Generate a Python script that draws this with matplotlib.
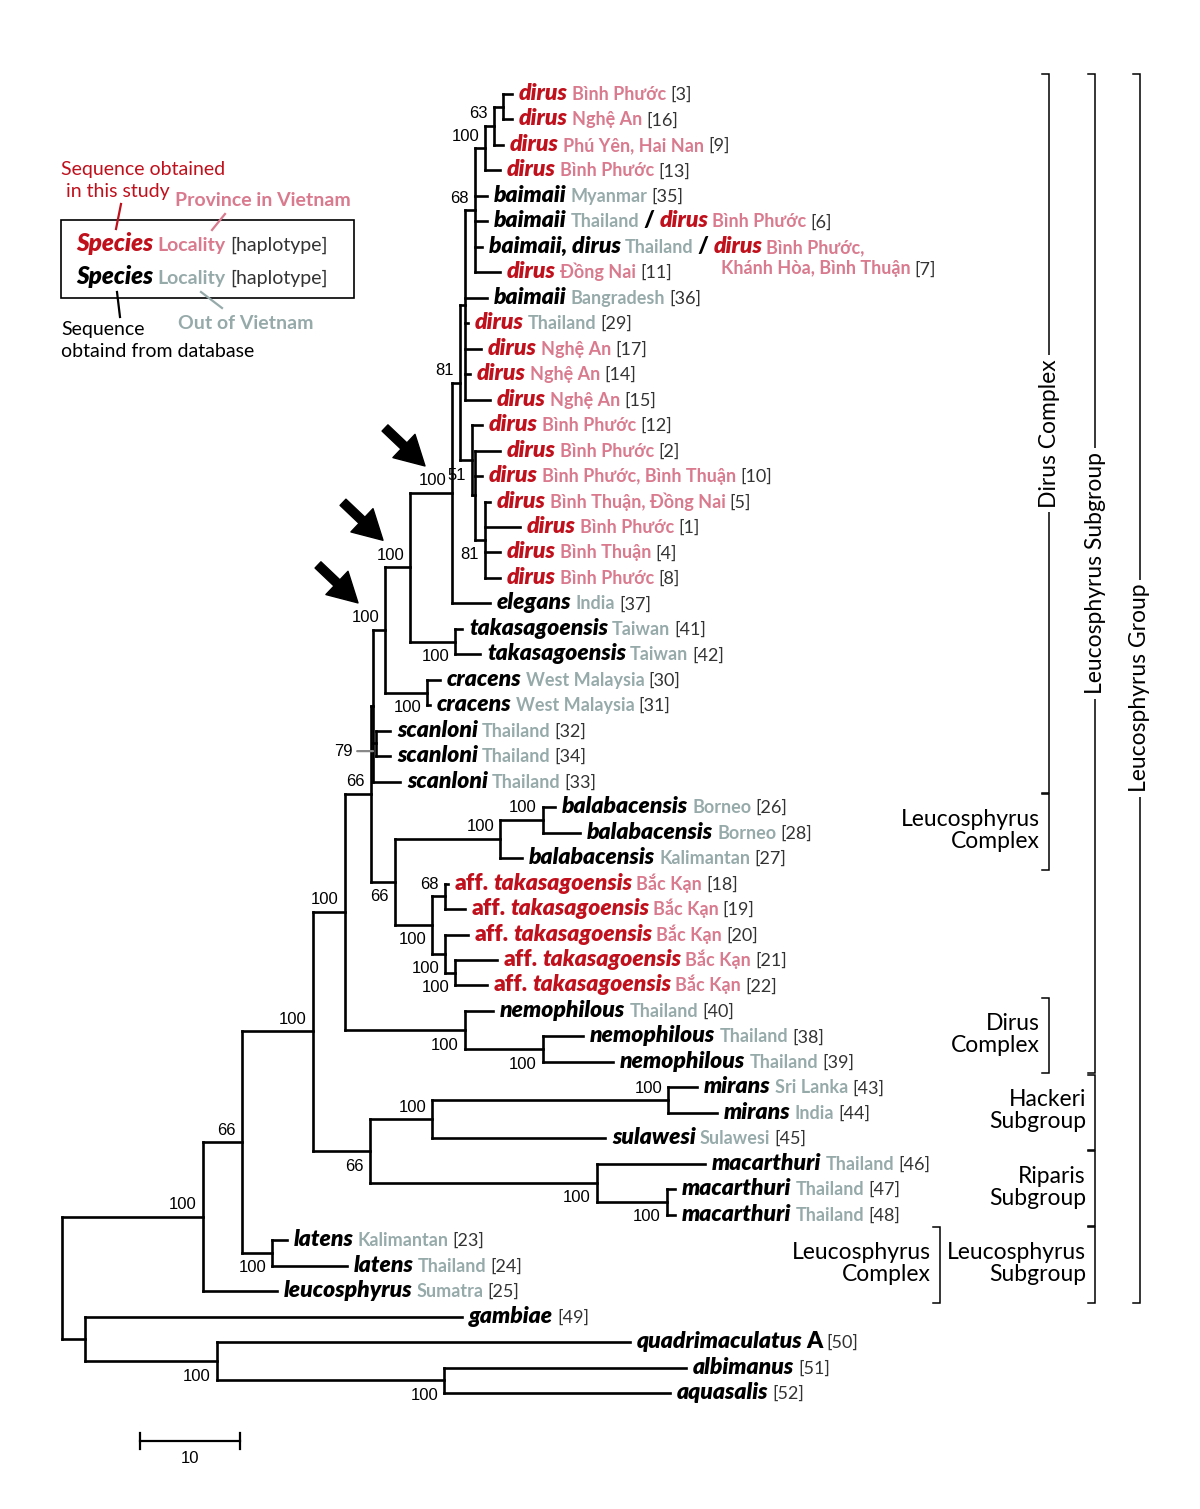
import matplotlib
matplotlib.use("Agg")
import matplotlib.pyplot as plt
import matplotlib.transforms as mtransforms
from matplotlib.collections import LineCollection
from matplotlib.patches import Rectangle

# tree in newick, branch lengths in substitutions (scale bar = 10)
newick = (
    "((((((((((((((((1:0.9,2:0.9)A:0.9,3:0.9)B:0.9,4:1.5)C:1.0,5:1.2,6:1.2,7:0.7,8:2.5)D:1.0,"
    "9:2.2,10:0.3,11:1.6,12:0.5,13:2.5)M:0.5,"
    "(14:1.0,(15:2.5,16:0.7,(17:0.5,18:3.5,19:1.5,20:1.5)Q:1.0)P:0.3)N51:1.2)N81:0.8,"
    "21:3.8)N452:4.2,(22:0.7,23:2.5)T:4.5)N410:2.5,(24:1.3,25:0.3)CR:4.2)N385:1.2,"
    "(26:1.4,27:1.4)S79:0.3,28:2.7)X:0.2,"
    "(((29:1.2,30:3.7)B2:4.3,31:2.2)BA:10.5,((32:0.3,33:2.0)N68:1.3,"
    "(34:2.3,(35:4.2,36:3.2)N100B:1.0)N100A:1.3)AF:3.7)N66B:2.4)N66:2.6,"
    "(37:2.8,(38:4.0,39:7.0)NN:7.8)NE:12.0)N345:3.2,"
    "(((40:2.9,41:4.9)MM:23.6,42:17.3)MI:6.2,(43:10.8,(44:0.8,45:0.8)M47:7.0)MAC:22.7)N370:5.7)N313:7.1,"
    "(46:1.5,47:7.5)LAT:3.0)N242:3.9,48:7.4)I:14.1,"
    "(49:37.7,(50:41.3,(51:24.2,52:22.6)AO:22.7)Q217:13.2)OUT:2.3)R;"
)

species = [
    "dirus", "dirus", "dirus", "dirus", "baimaii", "baimaii", "baimaii, dirus", "dirus",
    "baimaii", "dirus", "dirus", "dirus", "dirus", "dirus", "dirus", "dirus", "dirus",
    "dirus", "dirus", "dirus", "elegans", "takasagoensis", "takasagoensis", "cracens",
    "cracens", "scanloni", "scanloni", "scanloni", "balabacensis", "balabacensis",
    "balabacensis", "aff. takasagoensis", "aff. takasagoensis", "aff. takasagoensis",
    "aff. takasagoensis", "aff. takasagoensis", "nemophilous", "nemophilous", "nemophilous",
    "mirans", "mirans", "sulawesi", "macarthuri", "macarthuri", "macarthuri", "latens",
    "latens", "leucosphyrus", "gambiae", "quadrimaculatus A", "albimanus", "aquasalis",
]
locality = [
    "Bình Phước", "Nghệ An", "Phú Yên, Hai Nan", "Bình Phước", "Myanmar", "Thailand",
    "Thailand", "Đồng Nai", "Bangradesh", "Thailand", "Nghệ An", "Nghệ An", "Nghệ An",
    "Bình Phước", "Bình Phước", "Bình Phước, Bình Thuận", "Bình Thuận, Đồng Nai",
    "Bình Phước", "Bình Thuận", "Bình Phước", "India", "Taiwan", "Taiwan", "West Malaysia",
    "West Malaysia", "Thailand", "Thailand", "Thailand", "Borneo", "Borneo", "Kalimantan",
    "Bắc Kạn", "Bắc Kạn", "Bắc Kạn", "Bắc Kạn", "Bắc Kạn", "Thailand", "Thailand",
    "Thailand", "Sri Lanka", "India", "Sulawesi", "Thailand", "Thailand", "Thailand",
    "Kalimantan", "Thailand", "Sumatra", "", "", "", "",
]
haplotype = [3, 16, 9, 13, 35, 6, 7, 11, 36, 29, 17, 14, 15, 12, 2, 10, 5, 1, 4, 8,
             37, 41, 42, 30, 31, 32, 34, 33, 26, 28, 27, 18, 19, 20, 21, 22, 40, 38, 39,
             43, 44, 45, 46, 47, 48, 23, 24, 25, 49, 50, 51, 52]
# species sequenced in this study (red) / locality in Vietnam (pink)
this_study = [1, 1, 1, 1, 0, 0, 0, 1, 0, 1, 1, 1, 1, 1, 1, 1, 1, 1, 1, 1,
              0, 0, 0, 0, 0, 0, 0, 0, 0, 0, 0, 1, 1, 1, 1, 1, 0, 0, 0,
              0, 0, 0, 0, 0, 0, 0, 0, 0, 0, 0, 0, 0]
in_vietnam = [1, 1, 1, 1, 0, 0, 0, 1, 0, 0, 1, 1, 1, 1, 1, 1, 1, 1, 1, 1,
              0, 0, 0, 0, 0, 0, 0, 0, 0, 0, 0, 1, 1, 1, 1, 1, 0, 0, 0,
              0, 0, 0, 0, 0, 0, 0, 0, 0, 0, 0, 0, 0]
# leaves holding two sequences: second species / locality lines
second_part = {6: ("dirus", ["Bình Phước"]),
               7: ("dirus", ["Bình Phước,", "Khánh Hòa, Bình Thuận"])}

# bootstrap values per internal node, with where the label sits
support = {
    "B": ("63", "above"), "C": ("100", "above"), "D": ("68", "above"),
    "N81": ("81", "above"), "N51": ("51", "below"), "Q": ("81", "below"),
    "N452": ("100", "above"), "N410": ("100", "above"), "T": ("100", "below"),
    "N385": ("100", "above"), "CR": ("100", "below"), "S79": ("79", "leader"),
    "N66": ("66", "above"), "BA": ("100", "above"), "B2": ("100", "above"),
    "N66B": ("66", "below"), "N68": ("68", "above"), "AF": ("100", "below"),
    "N100A": ("100", "below"), "N100B": ("100", "below"), "N345": ("100", "above"),
    "NE": ("100", "below"), "NN": ("100", "below"), "N313": ("100", "above"),
    "MI": ("100", "above"), "N370": ("66", "below"), "MM": ("100", "above"),
    "MAC": ("100", "below"), "M47": ("100", "below"), "N242": ("66", "above"),
    "I": ("100", "above"), "LAT": ("100", "below"), "Q217": ("100", "below"),
    "AO": ("100", "below"),
}
arrow_nodes = ["N452", "N410", "N385"]

# clade brackets: (label, first leaf, last leaf, column)
brackets = [
    ("Dirus Complex", 1, 28, 1, "side"),
    ("Leucosphyrus\nComplex", 29, 31, 1, "left"),
    ("Dirus\nComplex", 37, 39, 1, "left"),
    ("Leucosphyrus Subgroup", 1, 39, 2, "side"),
    ("Hackeri\nSubgroup", 40, 42, 2, "left"),
    ("Riparis\nSubgroup", 43, 45, 2, "left"),
    ("Leucosphyrus\nSubgroup", 46, 48, 2, "left"),
    ("Leucosphyrus\nComplex", 46, 48, 0, "left"),
    ("Leucosphyrus Group", 1, 48, 3, "side"),
]
bracket_cols = [87.8, 98.7, 103.3, 107.8]
scale_len = 10

RED = "#c0101c"
PINK = "#d97a8e"
GREY = "#97aaaa"
HAP = "#333333"


def parse(s):
    pos = 0

    def node():
        nonlocal pos
        n = {"children": [], "name": "", "bl": 0.0}
        if s[pos] == "(":
            pos += 1
            n["children"].append(node())
            while s[pos] == ",":
                pos += 1
                n["children"].append(node())
            pos += 1
        start = pos
        while s[pos] not in ":,);":
            pos += 1
        n["name"] = s[start:pos]
        if s[pos] == ":":
            pos += 1
            start = pos
            while s[pos] not in ",);":
                pos += 1
            n["bl"] = float(s[start:pos])
        return n

    return node()


def layout(n, px=0.0):
    n["x"] = px + n["bl"]
    if n["children"]:
        for c in n["children"]:
            layout(c, n["x"])
        n["y"] = (n["children"][0]["y"] + n["children"][-1]["y"]) / 2
    else:
        n["y"] = int(n["name"]) - 1
    n["px"] = px


def walk(n):
    yield n
    for c in n["children"]:
        yield from walk(c)


root = parse(newick)
layout(root)
nodes = list(walk(root))
byname = {n["name"]: n for n in nodes}

fig = plt.figure(figsize=(12, 15.09), dpi=100)
ax = fig.add_axes([0, 0, 1, 1])
ax.set_xlim(-6.2, 113.8)
row = 25.47
ax.set_ylim((1509 - 94) / row, -94 / row)
ax.axis("off")

segs = []
for n in nodes:
    if n is not root:
        segs.append([(n["px"], n["y"]), (n["x"], n["y"])])
    if n["children"]:
        segs.append([(n["x"], n["children"][0]["y"]), (n["x"], n["children"][-1]["y"])])
ax.add_collection(LineCollection(segs, colors="black", linewidths=1.9, capstyle="projecting"))

renderer = fig.canvas.get_renderer()
inv = ax.transData.inverted()
base = mtransforms.offset_copy(ax.transData, fig=fig, x=0, y=-6, units="dots")

SP = dict(family="Lato", weight="heavy", style="italic", fontsize=16.5)
SPU = dict(family="Lato", weight="heavy", fontsize=16.5)
LOC = dict(family="Lato", weight="bold", fontsize=13)
HP = dict(family="Lato", fontsize=13, color=HAP)


def put(x, y, s, kw, gap=4, trans=base):
    t = ax.text(x, y, s, transform=trans, ha="left", va="baseline", **kw)
    bb = t.get_window_extent(renderer)
    return inv.transform((bb.x1 + gap, 0))[0], t


def species_parts(name, color):
    parts, cur = [], []
    for tok in name.split(" "):
        if tok in ("aff.", "A"):
            if cur:
                parts.append((" ".join(cur), dict(SP, color=color)))
                cur = []
            parts.append((tok, dict(SPU, color=color)))
        else:
            cur.append(tok)
    if cur:
        parts.append((" ".join(cur), dict(SP, color=color)))
    return parts


for i in range(len(species)):
    leaf = byname[str(i + 1)]
    x = leaf["x"] + 0.7
    y = leaf["y"]
    col = RED if this_study[i] else "black"
    for s, kw in species_parts(species[i], col):
        x, _ = put(x, y, s, kw, gap=4)
    if locality[i]:
        x, _ = put(x, y, locality[i], dict(LOC, color=PINK if in_vietnam[i] else GREY))
    if haplotype[i] in second_part:
        sp2, locs = second_part[haplotype[i]]
        x, _ = put(x, y, "/", dict(SPU, color="black"), gap=5)
        x0 = x
        x, _ = put(x, y, sp2, dict(SP, color=RED))
        x, _ = put(x, y, locs[0], dict(LOC, color=PINK))
        if len(locs) > 1:
            y = y + 0.85
            x, _ = put(x0 + 0.7, y, locs[1], dict(LOC, color=PINK))
    put(x, y, f"[{haplotype[i]}]", HP)

# bootstrap labels
BS = dict(family="Liberation Sans", fontsize=12, color="black")
for name, (val, where) in support.items():
    n = byname[name]
    if where == "above":
        tr = mtransforms.offset_copy(ax.transData, fig=fig, x=-6, y=12, units="dots")
        ax.text(n["x"], n["y"], val, transform=tr, ha="right", va="center", **BS)
    elif where == "below":
        tr = mtransforms.offset_copy(ax.transData, fig=fig, x=-6, y=-15, units="dots")
        ax.text(n["x"], n["y"], val, transform=tr, ha="right", va="center", **BS)
    else:
        ax.annotate(val, xy=(n["x"] - 0.3, n["y"] + 0.3), xytext=(-20, 0),
                    textcoords="offset pixels", ha="right", va="center", **BS,
                    arrowprops=dict(arrowstyle="-", color="#888888", lw=1.6,
                                    shrinkA=1, shrinkB=0))

# arrows pointing at the key nodes
for name in arrow_nodes:
    n = byname[name]
    tip = mtransforms.offset_copy(ax.transData, fig=fig, x=-27, y=27, units="dots")
    ax.annotate("", xy=(n["x"], n["y"]), xycoords=tip, xytext=(-40, 38),
                textcoords="offset pixels",
                arrowprops=dict(arrowstyle="simple,head_length=0.95,head_width=1.05,tail_width=0.28",
                                fc="black", ec="black", mutation_scale=22,
                                shrinkA=0, shrinkB=0))

# brackets
BR = dict(family="Lato", fontsize=16.5, color="black")
tick = 0.7
for label, a, b, c, kind in brackets:
    xc = bracket_cols[c]
    y0, y1 = a - 1 - 0.5, b - 1 + 0.45
    if kind == "side":
        y0 = a - 1 - 0.8
    ax.plot([xc - tick, xc, xc, xc - tick], [y0, y0, y1, y1], color="black", lw=1.1,
            solid_joinstyle="miter")
    if kind == "side":
        ax.text(xc, (y0 + y1) / 2, label, rotation=90, ha="center", va="center",
                bbox=dict(fc="white", ec="none", pad=3), **BR)
    else:
        ax.text(xc - 0.9, (y0 + y1) / 2 - 0.05, label, ha="right", va="center",
                linespacing=1.05, **BR)

# scale bar
sx = 7.8
sy = (1441 - 94) / row
ax.plot([sx, sx + scale_len], [sy, sy], color="black", lw=1.6)
for xx in (sx, sx + scale_len):
    ax.plot([xx, xx], [sy - 0.3, sy + 0.3], color="black", lw=1.6)
ax.text(sx + scale_len / 2, sy + 0.7, str(scale_len), ha="center", va="center", **BS)

# legend (figure pixel coordinates)
lg = fig.add_axes([0, 0, 1, 1])
lg.set_xlim(0, 1200)
lg.set_ylim(1509, 0)
lg.axis("off")
lg.patch.set_alpha(0)
lg.add_patch(Rectangle((61, 220), 293, 78, fill=False, ec="black", lw=1.2))
lrend = lg.transData.inverted()


def lput(x, y, s, kw, gap=5):
    t = lg.text(x, y, s, ha="left", va="baseline", **kw)
    bb = t.get_window_extent(renderer)
    return lrend.transform((bb.x1 + gap, 0))[0]


for yy, c1, c2 in ((251, RED, PINK), (284, "black", GREY)):
    x = lput(76, yy, "Species", dict(SP, fontsize=17.5, color=c1), gap=4)
    x = lput(x, yy, "Locality", dict(LOC, fontsize=14, color=c2), gap=5)
    lput(x, yy, "[haplotype]", dict(family="Lato", fontsize=14, color=HAP))

NOTE = dict(family="Lato", fontsize=14)
lg.text(61, 175, "Sequence obtained", color=RED, va="baseline", **NOTE)
lg.text(66, 197, "in this study", color=RED, va="baseline", **NOTE)
lg.text(175, 206, "Province in Vietnam", color=PINK, va="baseline",
        family="Lato", weight="bold", fontsize=14)
lg.text(61, 335, "Sequence", color="black", va="baseline", **NOTE)
lg.text(61, 357, "obtaind from database", color="black", va="baseline", **NOTE)
lg.text(178, 329, "Out of Vietnam", color=GREY, va="baseline",
        family="Lato", weight="bold", fontsize=14)
lg.plot([121, 116], [204, 229], color=RED, lw=1.6)
lg.plot([225, 212], [214, 230], color=PINK, lw=1.6)
lg.plot([117, 120], [292, 317], color="black", lw=1.6)
lg.plot([201, 222], [292, 308], color=GREY, lw=1.6)

fig.savefig("out.png", dpi=100)
